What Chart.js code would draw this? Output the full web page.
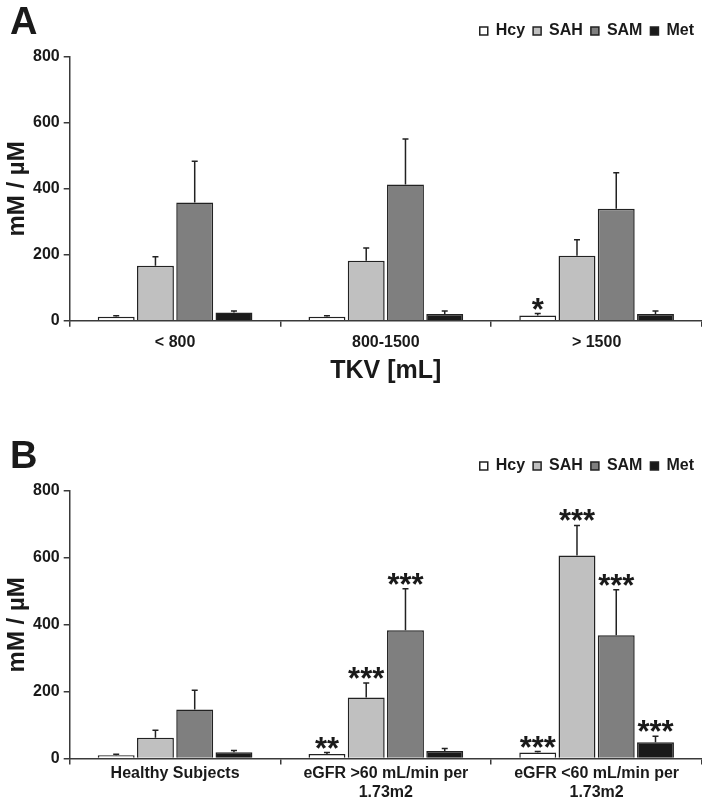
<!DOCTYPE html>
<html>
<head>
<meta charset="utf-8">
<script src="https://cdn.jsdelivr.net/npm/chart.js@4.4.0/dist/chart.umd.min.js"></script>
<style>
  html, body { margin: 0; padding: 0; background: #fff; }
  #wrap { position: relative; width: 702px; height: 805px; overflow: hidden; }
  .panel { position: absolute; left: 0; width: 702px; }
  .letter { position: absolute; left: 10px; font: bold 38px "Liberation Sans", Arial, sans-serif; line-height: 38px; color: #1a1a1a; }
</style>
</head>
<body>
<div id="wrap">
  <div class="panel" style="top:0;height:434px"><canvas id="chartA" width="702" height="434"></canvas></div>
  <div class="panel" style="top:434px;height:371px"><canvas id="chartB" width="702" height="371"></canvas></div>
  <div class="letter" style="top:2px">A</div>
  <div class="letter" style="top:436px">B</div>
</div>
<script>
const seriesNames = ['Hcy', 'SAH', 'SAM', 'Met'];
const seriesColors = ['#ffffff', '#c0c0c0', '#7f7f7f', '#1a1a1a'];
const yTicks = [0, 200, 400, 600, 800];

// panel A - total kidney volume
const tkvLabels = ['< 800', '800-1500', '> 1500'];
const hcyA = [12, 12, 16];
const sahA = [167, 182, 197];
const samA = [359, 413, 340];
const metA = [25, 21, 21];
const hcyErrA = [3, 3, 6];
const sahErrA = [27, 39, 49];
const samErrA = [125, 138, 109];
const metErrA = [5, 9, 9];
const hcyStarsA = ['', '', '*'];
const sahStarsA = ['', '', ''];
const samStarsA = ['', '', ''];
const metStarsA = ['', '', ''];

// panel B - renal function
const egfrLabels = ['Healthy Subjects', ['eGFR >60 mL/min per', '1.73m2'], ['eGFR <60 mL/min per', '1.73m2']];
const hcyB = [10, 14, 18];
const sahB = [62, 183, 607];
const samB = [147, 384, 369];
const metB = [19, 23, 49];
const hcyErrB = [3, 4, 3];
const sahErrB = [23, 43, 90];
const samErrB = [57, 124, 136];
const metErrB = [5, 7, 18];
const hcyStarsB = ['', '**', '***'];
const sahStarsB = ['', '***', '***'];
const samStarsB = ['', '***', '***'];
const metStarsB = ['', '', '***'];

const FONT = '"Liberation Sans", Arial, sans-serif';
const INK = '#1a1a1a';
const AXIS = '#3a3a3a';
Chart.defaults.font.family = FONT;
Chart.defaults.color = INK;

// error whiskers (upper only) + significance stars
const errorBars = {
  id: 'errorBars',
  afterDatasetsDraw(chart) {
    const ctx = chart.ctx;
    const y = chart.scales.y;
    ctx.save();
    chart.data.datasets.forEach((ds, i) => {
      const meta = chart.getDatasetMeta(i);
      meta.data.forEach((bar, j) => {
        const top = y.getPixelForValue(ds.data[j] + ds.errors[j]);
        ctx.strokeStyle = '#222';
        ctx.lineWidth = 1.5;
        ctx.beginPath();
        ctx.moveTo(bar.x, bar.y);
        ctx.lineTo(bar.x, top);
        ctx.moveTo(bar.x - 3, top);
        ctx.lineTo(bar.x + 3, top);
        ctx.stroke();
        if (ds.stars[j]) {
          ctx.fillStyle = INK;
          ctx.font = 'bold 31px ' + FONT;
          ctx.textAlign = 'center';
          ctx.textBaseline = 'alphabetic';
          const m = ctx.measureText('*');
          // glyph bottom sits ~4px above the whisker cap
          ctx.fillText(ds.stars[j], bar.x, top - 4 + m.actualBoundingBoxDescent * -1);
        }
      });
    });
    ctx.restore();
  }
};

// keep the legend up near the panel letter, not glued to the plot
const legendSpot = {
  id: 'legendSpot',
  afterLayout(chart, args, opts) {
    const lg = chart.legend;
    const h = lg.bottom - lg.top;
    lg.top = opts.top;
    lg.bottom = opts.top + h;
  }
};

function makeChart(id, labels, values, errors, stars, xTitle, pad, areaTop, tickPad, legendTop) {
  return new Chart(document.getElementById(id), {
    type: 'bar',
    data: {
      labels: labels,
      datasets: seriesNames.map((name, k) => ({
        label: name,
        data: values[k],
        errors: errors[k],
        stars: stars[k],
        backgroundColor: seriesColors[k],
        borderColor: '#222',
        borderWidth: 1.5,
        categoryPercentage: 0.745,
        barPercentage: 0.94
      }))
    },
    options: {
      responsive: false,
      animation: false,
      layout: { padding: pad },
      plugins: {
        legendSpot: { top: legendTop },
        legend: {
          position: 'top',
          align: 'end',
          labels: {
            boxWidth: 8,
            boxHeight: 8,
            padding: 8,
            color: INK,
            font: { size: 16, weight: 'bold' }
          }
        },
        tooltip: { enabled: false }
      },
      scales: {
        x: {
          grid: { offset: true, drawOnChartArea: false, tickLength: 6, color: AXIS, lineWidth: 1.5 },
          border: { color: AXIS, width: 1.5 },
          ticks: { color: INK, padding: tickPad, maxRotation: 0, autoSkip: false, font: { size: 16, weight: 'bold' } },
          title: {
            display: !!xTitle,
            text: xTitle,
            color: INK,
            padding: { top: -2, bottom: 4 },
            font: { size: 25, weight: 'bold' }
          }
        },
        y: {
          min: 0,
          max: 800,
          afterBuildTicks: s => { s.ticks = yTicks.map(v => ({ value: v })); },
          afterFit: s => { s.paddingTop = areaTop; },
          grid: { drawOnChartArea: false, tickLength: 6, color: AXIS, lineWidth: 1.5 },
          border: { color: AXIS, width: 1.5 },
          ticks: { color: INK, padding: 4, font: { size: 16, weight: 'bold' } },
          title: {
            display: true,
            text: 'mM / µM',
            color: INK,
            padding: { top: 5, bottom: 0 },
            font: { size: 24, weight: 'bold', lineHeight: 1 }
          }
        }
      }
    },
    plugins: [errorBars, legendSpot]
  });
}

makeChart('chartA', tkvLabels,
  [hcyA, sahA, samA, metA],
  [hcyErrA, sahErrA, samErrA, metErrA],
  [hcyStarsA, sahStarsA, samStarsA, metStarsA],
  'TKV [mL]', { top: 15, left: 0, right: 0, bottom: 44 }, 57, 6, 15);

makeChart('chartB', egfrLabels,
  [hcyB, sahB, samB, metB],
  [hcyErrB, sahErrB, samErrB, metErrB],
  [hcyStarsB, sahStarsB, samStarsB, metStarsB],
  '', { top: 16, left: 0, right: 0, bottom: 4 }, 57, -1, 16);
</script>
</body>
</html>
